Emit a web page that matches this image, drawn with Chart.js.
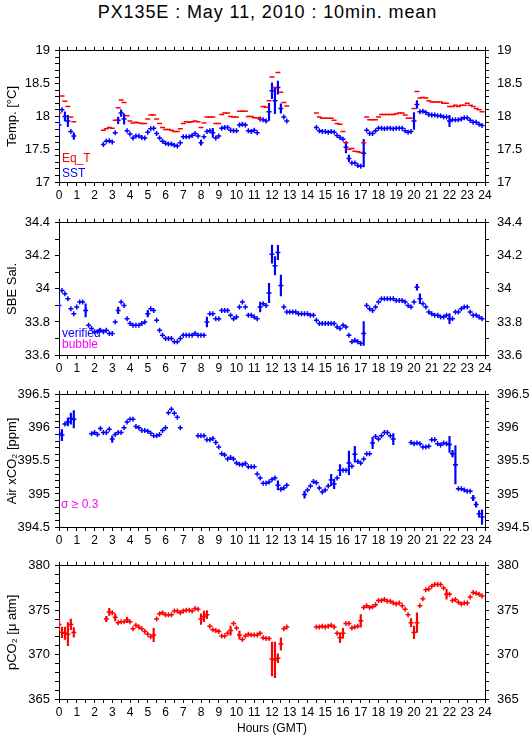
<!DOCTYPE html>
<html>
<head>
<meta charset="utf-8">
<script src="https://cdn.jsdelivr.net/npm/chart.js@4.4.1/dist/chart.umd.min.js"></script>
<style>
  body { margin: 0; background: #fff; width: 529px; height: 739px; position: relative; overflow: hidden;
         font-family: "Liberation Sans", "DejaVu Sans", Arial, sans-serif; }
  canvas { position: absolute; left: 0; }
  .lbl { position: absolute; font-size: 12px; line-height: 12px; white-space: nowrap; }
  #title { position: absolute; left: 0; width: 535px; top: 3px; text-align: center;
           font-size: 18px; line-height: 18px; letter-spacing: 0.9px; color: #000; }
</style>
</head>
<body>
<div id="title">PX135E : May 11, 2010 : 10min. mean</div>
<canvas id="cTemp"></canvas>
<canvas id="cSal"></canvas>
<canvas id="cAir"></canvas>
<canvas id="cPco2"></canvas>
<div class="lbl" style="left:62px;top:152px;color:#f00">Eq_T</div>
<div class="lbl" style="left:62px;top:167px;color:#00f">SST</div>
<div class="lbl" style="left:62px;top:327px;color:#00f">verified</div>
<div class="lbl" style="left:62px;top:338px;color:#f0f">bubble</div>
<div class="lbl" style="left:61px;top:498px;color:#f0f">σ ≥ 0.3</div>
<script>
// 10 minute means, one slot per 10 min (0..23h50)
const hours = Array.from({length: 144}, (_, k) => k / 6);
const hourTicks = Array.from({length: 49}, (_, i) => i / 2);

// --- Temp. panel ---
const eqT = [
  18.05, 18.31, 18.23, 18.15, 17.99, 17.92, null, null, null, null, null, null,
  null, null, null, 17.79, 17.81, 17.83, 17.82, 17.94, 18.13, 18.25, 18.21, 18.01,
  17.93, 17.90, 17.91, 17.90, 17.89, 17.89, 17.96, 18.02, 18.02, 17.96, 17.89, 17.83,
  17.80, 17.80, 17.79, 17.77, 17.77, 17.81, 17.89, 17.92, 17.91, 17.92, 17.93, 17.92,
  17.83, 17.90, 17.99, 17.99, 17.99, 17.89, 17.89, 18.03, 18.05, 18.05, 18.00, 17.99,
  17.99, 18.08, 18.08, 18.08, 18.00, 18.00, 17.98, 17.98, 17.96, 18.15, 18.14, 18.24,
  18.60, 18.44, 18.67, 18.37, 18.21, 18.16, null, null, null, null, null, null,
  null, null, null, 18.05, 17.99, 17.97, 17.97, 17.97, 17.97, 17.94, 17.89, 17.88,
  17.77, 17.60, 17.50, 17.51, 17.47, 17.46, 17.45, 17.60, 17.99, 17.95, 17.95, 17.95,
  17.99, 18.03, 18.03, 18.03, 18.03, 18.03, 18.04, 18.05, 18.05, 18.02, 17.97, 17.97,
  18.12, 18.38, 18.28, 18.29, 18.28, 18.24, 18.22, 18.22, 18.22, 18.22, 18.20, 18.20,
  18.15, 18.15, 18.17, 18.15, 18.17, 18.17, 18.20, 18.17, 18.15, 18.12, 18.10, 18.07
];
const sst = [
  17.87, 18.10, 18.00, 17.93, 17.77, 17.70, null, null, null, null, null, null,
  null, null, null, 17.57, 17.62, 17.63, 17.61, 17.75, 17.94, 18.05, 17.96, 17.78,
  17.73, 17.67, 17.70, 17.70, 17.68, 17.67, 17.76, 17.81, 17.82, 17.74, 17.67, 17.62,
  17.59, 17.58, 17.58, 17.56, 17.55, 17.60, 17.69, 17.69, 17.69, 17.71, 17.74, 17.70,
  17.60, 17.69, 17.77, 17.78, 17.75, 17.67, 17.70, 17.82, 17.83, 17.83, 17.79, 17.78,
  17.78, 17.87, 17.88, 17.87, 17.78, 17.77, 17.79, 17.75, 17.96, 17.95, 17.93, 18.07,
  18.39, 18.24, 18.44, 18.12, 17.99, 17.93, null, null, null, null, null, null,
  null, null, null, 17.83, 17.78, 17.77, 17.77, 17.76, 17.77, 17.76, 17.71, 17.68,
  17.65, 17.53, 17.36, 17.29, 17.29, 17.25, 17.24, 17.44, 17.79, 17.74, 17.74, 17.78,
  17.82, 17.82, 17.81, 17.82, 17.82, 17.81, 17.82, 17.82, 17.82, 17.78, 17.76, 17.77,
  17.93, 18.18, 18.07, 18.08, 18.06, 18.03, 18.02, 18.02, 18.01, 18.01, 17.99, 17.99,
  17.93, 17.95, 17.95, 17.95, 17.96, 17.98, 17.98, 17.94, 17.91, 17.91, 17.88, 17.86
];
// [slot, std. dev.]
const sstErr = [[0, 0.15], [2, 0.07], [3, 0.085], [5, 0.05], [20, 0.05], [21, 0.05], [22, 0.08],
  [48, 0.04], [52, 0.07], [71, 0.13], [72, 0.12], [73, 0.2], [74, 0.1], [75, 0.07],
  [97, 0.085], [98, 0.05], [103, 0.21], [120, 0.13], [121, 0.06], [132, 0.085]];
const tempLabels = [17, 17.5, 18, 18.5, 19];

// --- SBE Sal. panel ---
const sal = [
  33.90, 33.99, 33.97, 33.94, 33.88, 33.85, 33.89, 33.92, 33.92, 33.87, 33.78, 33.76,
  33.74, 33.74, 33.75, 33.74, 33.75, 33.73, 33.73, 33.80, 33.87, 33.92, 33.90, 33.82,
  33.79, 33.78, 33.78, 33.78, 33.79, 33.80, 33.85, 33.88, 33.87, 33.81, 33.75, 33.72,
  33.70, 33.70, 33.70, 33.68, 33.68, 33.70, 33.72, 33.72, 33.72, 33.72, 33.73, 33.72,
  33.72, 33.72, 33.80, 33.85, 33.85, 33.82, 33.82, 33.87, 33.87, 33.87, 33.84, 33.82,
  33.83, 33.89, 33.92, 33.89, 33.84, 33.84, 33.83, 33.82, 33.89, 33.91, 33.90, 33.975,
  34.21, 34.14, 34.22, 34.02, 33.89, 33.86, 33.86, 33.86, 33.86, 33.85, 33.85, 33.85,
  33.85, 33.84, 33.84, 33.81, 33.79, 33.79, 33.79, 33.79, 33.79, 33.79, 33.77, 33.76,
  33.78, 33.77, 33.72, 33.68, 33.69, 33.68, 33.67, 33.73, 33.90, 33.88, 33.87, 33.89,
  33.92, 33.94, 33.94, 33.94, 33.94, 33.94, 33.93, 33.93, 33.93, 33.92, 33.90, 33.89,
  33.92, 34.01, 33.94, 33.91, 33.89, 33.86, 33.85, 33.84, 33.84, 33.83, 33.83, 33.84,
  33.82, 33.82, 33.86, 33.86, 33.88, 33.89, 33.89, 33.86, 33.84, 33.84, 33.83, 33.82
];
const salErr = [[0, 0.04], [9, 0.04], [20, 0.02], [30, 0.02], [50, 0.03], [68, 0.03],
  [71, 0.058], [72, 0.055], [73, 0.056], [74, 0.043], [75, 0.063], [103, 0.072],
  [121, 0.017], [122, 0.03], [132, 0.03]];
const salLabels = [33.6, 33.8, 34, 34.2, 34.4];

// --- Air xCO2 panel ---
const xco2 = [
  395.92, 395.89, 396.06, 396.09, 396.14, 396.13, null, null, null, null, null, 395.91,
  395.93, 395.90, 395.99, 395.93, 395.93, 395.98, 395.83, 395.90, 395.93, 395.93, 396.00, 396.09,
  396.13, 396.13, 396.02, 396.00, 395.96, 395.96, 395.95, 395.92, 395.88, 395.88, 395.90, 395.96,
  396.00, 396.23, 396.28, 396.22, 396.16, 396.00, null, null, null, null, null, 395.88,
  395.88, 395.88, 395.82, 395.82, 395.84, 395.78, 395.71, 395.61, 395.59, 395.53, 395.55, 395.53,
  395.47, 395.45, 395.44, 395.46, 395.41, 395.41, 395.41, 395.30, 395.24, 395.16, 395.16, 395.18,
  395.22, 395.24, 395.13, 395.07, 395.09, 395.13, null, null, null, null, null, 394.99,
  395.06, 395.12, 395.19, 395.17, 395.09, 395.03, 395.06, 395.12, 395.21, 395.15, 395.24, 395.36,
  395.36, 395.36, 395.47, 395.42, 395.60, 395.49, 395.47, 395.53, 395.61, 395.61, 395.77, 395.87,
  395.83, 395.88, 395.93, 395.93, 395.88, 395.83, null, null, null, null, null, 395.78,
  395.76, 395.77, 395.76, 395.71, 395.71, 395.72, 395.82, 395.82, 395.76, 395.74, 395.77, 395.76,
  395.75, 395.61, 395.44, 395.08, 395.08, 395.06, 395.04, 395.04, 394.94, 394.84, 394.70, 394.65
];
const xco2Err = [[0, 0.11], [1, 0.085], [3, 0.06], [4, 0.085], [5, 0.13], [18, 0.05], [74, 0.07],
  [83, 0.055], [92, 0.085], [93, 0.07], [95, 0.085], [98, 0.18], [100, 0.12], [106, 0.085],
  [113, 0.085], [132, 0.12], [133, 0.05], [134, 0.29], [140, 0.04], [141, 0.04], [142, 0.05], [143, 0.11]];
const xco2Labels = [394.5, 395, 395.5, 396, 396.5];

// --- pCO2 panel ---
const pco2 = [
  373.4, 372.5, 372.4, 372.3, 373.4, 372.5, null, null, null, null, null, null,
  null, null, null, null, 374.0, 374.8, 374.7, 374.2, 373.6, 373.7, 373.7, 373.9,
  373.7, 372.9, 373.3, 373.1, 372.9, 372.6, 372.3, 372.0, 372.2, 374.0, 374.6, 374.7,
  374.5, 374.5, 374.5, 374.9, 374.9, 374.7, 374.9, 375.0, 375.0, 374.9, 375.2, 375.1,
  374.0, 374.3, 374.5, 373.2, 372.8, 372.7, 372.6, 372.1, 372.1, 372.4, 372.7, 373.5,
  373.0, 372.2, 371.7, 372.1, 372.3, 372.2, 372.2, 372.2, 372.4, 371.9, 371.8, 371.8,
  369.5, 369.4, 369.6, 371.2, 372.9, 373.1, null, null, null, null, null, null,
  null, null, null, 373.1, 373.1, 373.2, 373.1, 373.2, 373.3, 373.1, 372.4, 371.9,
  372.4, 373.5, 373.5, 373.0, 373.1, 373.2, 373.8, 375.3, 375.5, 375.3, 375.4, 375.6,
  376.1, 376.1, 376.2, 376.0, 376.0, 375.8, 375.7, 375.8, 375.5, 375.1, 374.5, 373.6,
  372.5, 373.6, 375.5, 376.3, 377.3, 377.4, 377.7, 377.9, 377.9, 377.9, 377.5, 376.8,
  376.8, 376.1, 376.2, 375.9, 375.7, 375.8, 375.8, 376.5, 377.0, 376.9, 376.8, 376.6
];
const pco2Err = [[0, 0.7], [1, 0.6], [2, 0.7], [3, 1.3], [4, 0.6], [5, 0.55], [16, 0.3], [17, 0.4],
  [19, 0.4], [23, 0.3], [32, 0.75], [48, 0.6], [49, 0.6], [50, 0.45], [58, 0.5], [61, 0.45],
  [72, 1.9], [73, 2.0], [74, 0.5], [75, 0.7], [95, 0.55], [96, 0.55], [102, 0.7],
  [119, 0.45], [120, 0.7], [121, 1.1], [131, 0.55]];
const pco2Labels = [365, 370, 375, 380];

const RED = '#ff0000', BLUE = '#0000ff';

Chart.defaults.font.family = '"Liberation Sans", "DejaVu Sans", Arial, sans-serif';
Chart.defaults.font.size = 13;
Chart.defaults.color = '#000';

const tickRange = (lo, hi, step) =>
  Array.from({length: Math.round((hi - lo) / step) + 1}, (_, i) => +(lo + i * step).toFixed(3));

function markers(vals, color, style) {
  return {
    type: 'scatter',
    data: vals.map((v, k) => v === null ? null : {x: hours[k], y: v}).filter(p => p),
    pointStyle: style,
    pointRadius: 2.5,
    pointHoverRadius: 2.5,
    borderColor: color,
    backgroundColor: color,
    pointBorderWidth: 1.5,
    showLine: false
  };
}

function errorBars(vals, errs, color) {
  return {
    type: 'bar',
    data: errs.map(([k, e]) => ({x: hours[k], y: [vals[k] - e, vals[k] + e]})),
    backgroundColor: color,
    borderWidth: 0,
    barThickness: 1.5,
    grouped: false
  };
}

const axisGrid = { drawOnChartArea: false, color: '#000', tickLength: 4, offset: false };

function panel(id, o) {
  const cv = document.getElementById(id);
  const top = o.plotTop - 10;
  cv.width = 529;
  cv.height = o.plotBottom - top + o.below;
  cv.style.top = top + 'px';
  const yTicks = tickRange(o.yMin, o.yMax, o.yStep);
  const isLabel = v => o.yLabels.some(l => Math.abs(l - v) < 1e-6);

  const yAxis = pos => ({
    type: 'linear', position: pos, min: o.yMin, max: o.yMax, beginAtZero: false,
    afterBuildTicks: s => { s.ticks = yTicks.map(v => ({value: v})); },
    afterFit: s => { s.width = pos === 'left' ? 59 : 44; },
    grid: axisGrid,
    border: { color: '#000' },
    ticks: { autoSkip: false, padding: pos === 'left' ? 5 : 8, callback: v => isLabel(v) ? String(v) : '' },
    title: pos === 'left'
      ? { display: true, text: o.yTitle, font: { size: 13 }, padding: { top: 5 } }
      : { display: false }
  });

  const xAxis = (pos) => ({
    type: 'linear', position: pos, min: 0, max: 24, offset: false,
    afterBuildTicks: s => { s.ticks = hourTicks.map(v => ({value: v})); },
    afterFit: s => { s.height = pos === 'top' ? 10 : o.below; },
    grid: axisGrid,
    border: { color: '#000' },
    ticks: {
      autoSkip: false, maxRotation: 0, minRotation: 0, padding: 2, font: { size: 12 },
      callback: v => (pos === 'bottom' && Number.isInteger(v)) ? String(v) : ''
    },
    title: (pos === 'bottom' && o.xTitle)
      ? { display: true, text: o.xTitle, font: { size: 12 }, padding: { bottom: 3 } }
      : { display: false }
  });

  new Chart(cv, {
    type: 'scatter',
    data: { datasets: o.datasets },
    options: {
      responsive: false,
      animation: false,
      events: [],
      layout: { padding: 0 },
      plugins: { legend: { display: false }, tooltip: { enabled: false } },
      scales: { x: xAxis('bottom'), x2: xAxis('top'), y: yAxis('left'), y2: yAxis('right') }
    }
  });
}

panel('cTemp', {
  plotTop: 45, plotBottom: 182, below: 30,
  yMin: 17, yMax: 19, yStep: 0.1, yLabels: tempLabels, yTitle: 'Temp. [°C]',
  datasets: [markers(eqT, RED, 'line'), markers(sst, BLUE, 'cross'), errorBars(sst, sstErr, BLUE)]
});
panel('cSal', {
  plotTop: 217, plotBottom: 355, below: 30,
  yMin: 33.6, yMax: 34.4, yStep: 0.1, yLabels: salLabels, yTitle: 'SBE Sal.',
  datasets: [markers(sal, BLUE, 'cross'), errorBars(sal, salErr, BLUE)]
});
panel('cAir', {
  plotTop: 389, plotBottom: 527, below: 30,
  yMin: 394.5, yMax: 396.5, yStep: 0.1, yLabels: xco2Labels, yTitle: 'Air xCO₂ [ppm]',
  datasets: [markers(xco2, BLUE, 'cross'), errorBars(xco2, xco2Err, BLUE)]
});
panel('cPco2', {
  plotTop: 560, plotBottom: 699, below: 40, xTitle: 'Hours (GMT)',
  yMin: 365, yMax: 380, yStep: 1, yLabels: pco2Labels, yTitle: 'pCO₂ [μ atm]',
  datasets: [markers(pco2, RED, 'cross'), errorBars(pco2, pco2Err, RED)]
});
</script>
</body>
</html>
